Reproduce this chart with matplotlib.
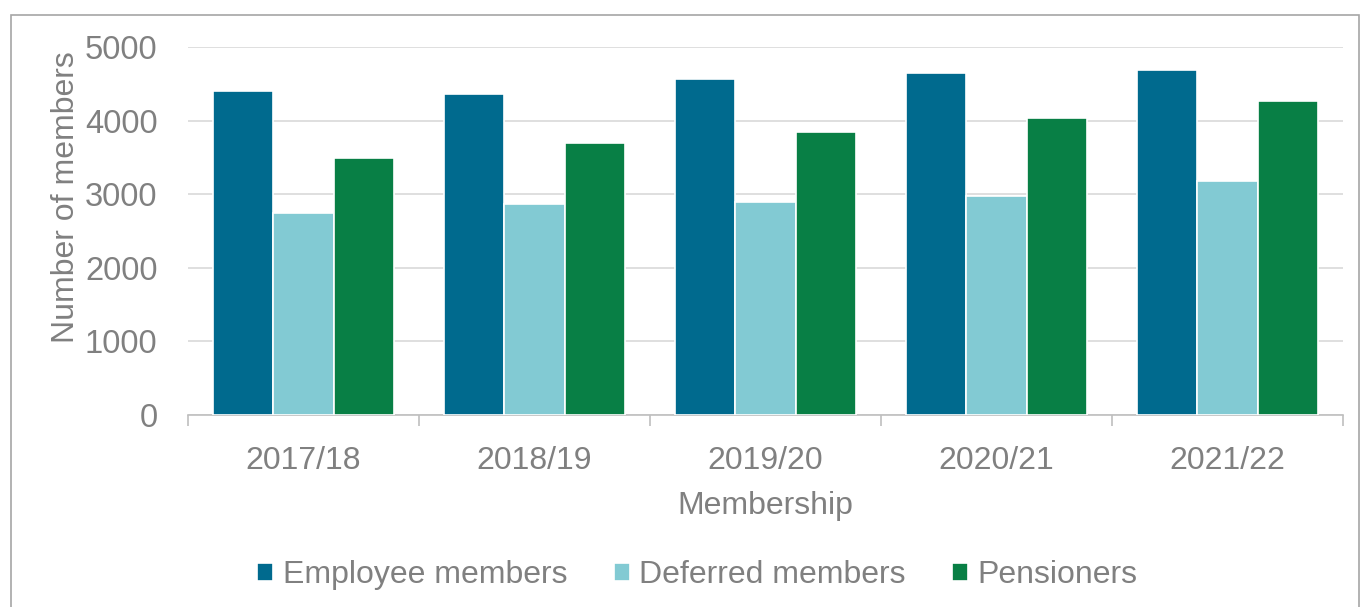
import numpy as np
import matplotlib
matplotlib.use("Agg")
from matplotlib import pyplot as plt
from matplotlib.patches import Rectangle

plt.rcParams['font.family'] = ['Liberation Sans', 'DejaVu Sans']

years = ['2017/18', '2018/19', '2019/20', '2020/21', '2021/22']
employee = [4400, 4360, 4560, 4640, 4690]
deferred = [2740, 2865, 2890, 2975, 3185]
pensioners = [3495, 3695, 3840, 4030, 4265]

series = [('Employee members', employee, '#006a8e'),
          ('Deferred members', deferred, '#82cad3'),
          ('Pensioners', pensioners, '#087f45')]

grey = '#808080'

fig = plt.figure(figsize=(13.62, 6.07), dpi=100)
ax = fig.add_axes([188/1362, 1-415/607, (1343-188)/1362, (415-47)/607])

x = np.arange(len(years))
w = 0.26
for i, (name, vals, col) in enumerate(series):
	ax.bar(x + (i-1)*w, vals, w, color=col, edgecolor='white', linewidth=1.2,
		label=name, zorder=3)

ax.set_xlim(-0.5, len(years)-0.5)
ax.set_ylim(0, 5000)
ax.set_yticks(range(0, 5001, 1000))
ax.yaxis.grid(True, color='#d9d9d9', linewidth=1.2, zorder=0)
ax.set_xticks(x)
ax.set_xticklabels(years)
ax.set_xticks(np.arange(-0.5, len(years), 1), minor=True)
ax.tick_params(axis='x', which='major', length=0, pad=22, labelsize=23, labelcolor=grey)
ax.tick_params(axis='x', which='minor', length=8, color='#bfbfbf', width=1.2)
ax.tick_params(axis='y', length=0, pad=22, labelsize=23.5, labelcolor=grey)

for s in ['top', 'right', 'left']:
	ax.spines[s].set_visible(False)
ax.spines['bottom'].set_color('#bfbfbf')
ax.spines['bottom'].set_linewidth(1.2)

ax.set_xlabel('Membership', fontsize=23, color=grey, labelpad=11)
ax.set_ylabel('Number of members', fontsize=23, color=grey, labelpad=4)
ax.yaxis.set_label_coords(-0.093, 0.592)

leg = fig.legend(loc='center', bbox_to_anchor=(0.512, 1-575/607), ncol=3,
	frameon=False, fontsize=23, handlelength=0.5, handleheight=0.5,
	handletextpad=0.3, columnspacing=1.45)
for t in leg.get_texts():
	t.set_color(grey)

fig.patches.append(Rectangle((11/1362, -0.01), (1359-11)/1362, 1-15/607+0.01,
	transform=fig.transFigure, fill=False, edgecolor='#a6a6a6', linewidth=1.2))

fig.savefig('out.png', dpi=100)
